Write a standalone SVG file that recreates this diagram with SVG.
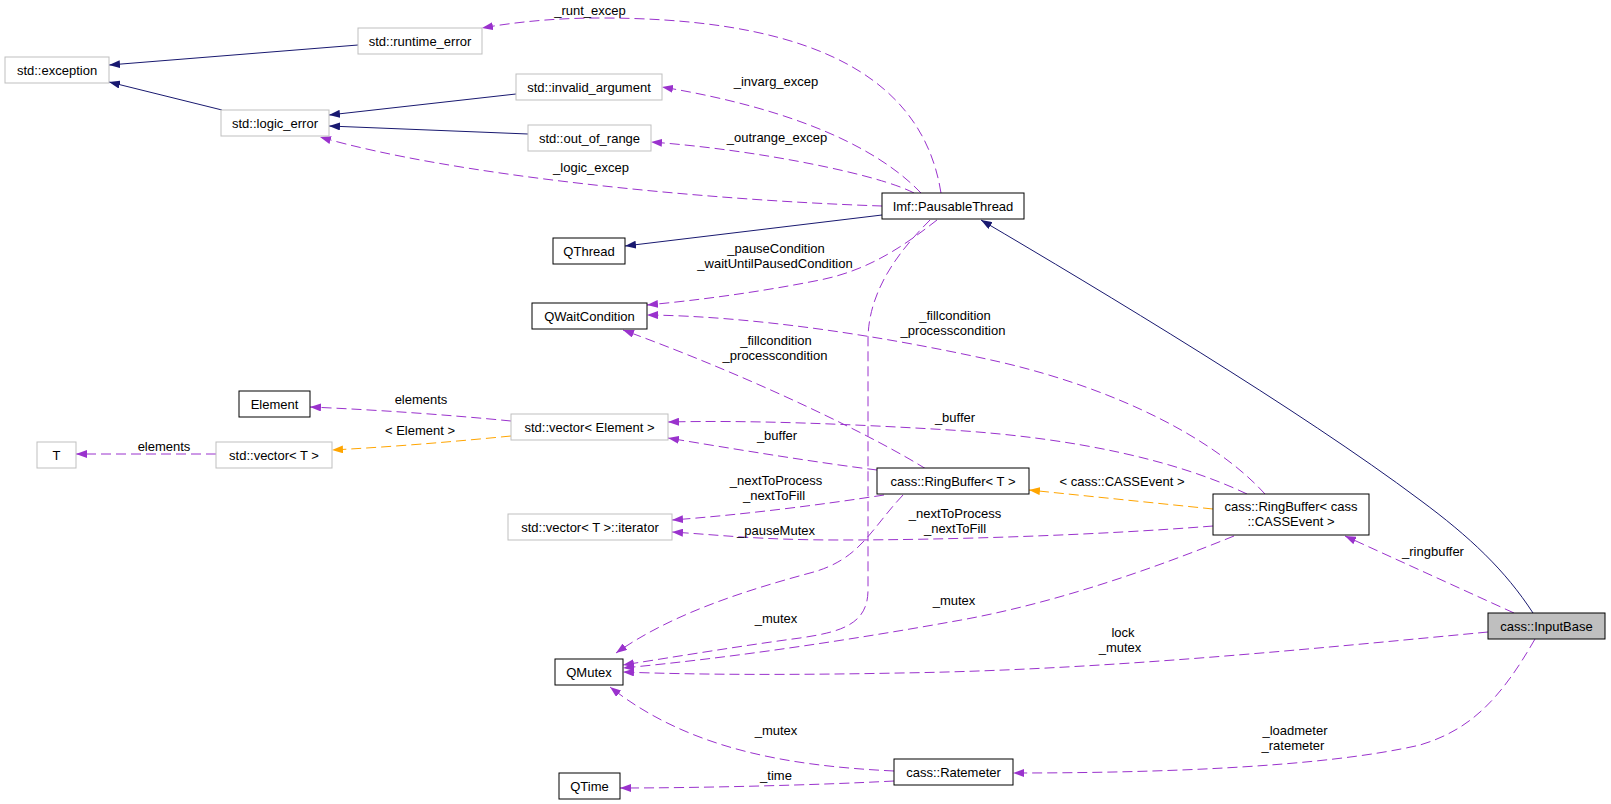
<svg xmlns="http://www.w3.org/2000/svg" width="1611" height="804" viewBox="0 0 1611 804">
<defs>
<style>
text{font-family:"Liberation Sans",Arial,sans-serif;font-size:13px;fill:#000;text-anchor:middle}
.n rect{fill:#fff;stroke:#000;stroke-width:1}
.g rect{fill:#fff;stroke:#bfbfbf;stroke-width:1}
.cur rect{fill:#bfbfbf;stroke:#000;stroke-width:1}
.inh{fill:none;stroke:#191970;stroke-width:1;marker-end:url(#ab)}
.use{fill:none;stroke:#9a32cd;stroke-width:1;stroke-dasharray:10,5;marker-end:url(#ap)}
.tpl{fill:none;stroke:#ffa500;stroke-width:1;stroke-dasharray:10,5;marker-end:url(#ao)}
</style>
<marker id="ab" viewBox="0 0 11 8" refX="11" refY="4" markerWidth="11" markerHeight="8" markerUnits="userSpaceOnUse" orient="auto"><path d="M0,0 L11,4 L0,8 z" fill="#191970"/></marker>
<marker id="ap" viewBox="0 0 11 8" refX="11" refY="4" markerWidth="11" markerHeight="8" markerUnits="userSpaceOnUse" orient="auto"><path d="M0,0 L11,4 L0,8 z" fill="#9a32cd"/></marker>
<marker id="ao" viewBox="0 0 11 8" refX="11" refY="4" markerWidth="11" markerHeight="8" markerUnits="userSpaceOnUse" orient="auto"><path d="M0,0 L11,4 L0,8 z" fill="#ffa500"/></marker>
</defs>
<rect width="1611" height="804" fill="#fff"/>
<g id="edges">
<path class="inh" d="M358,45 L109,65"/>
<path class="inh" d="M222,110 L109,82"/>
<path class="inh" d="M516,94 L329,115"/>
<path class="inh" d="M528,134 L329,126"/>
<path class="inh" d="M882,215 L625,246"/>
<path class="inh" d="M1533,613 C1505,570 1470,537 1420,500 C1300,410 1100,290 981,220"/>
<path class="use" d="M941,193 C920,60 780,18 600,18 C550,18 510,23 482,28"/>
<text x="590" y="15">_runt_excep</text>
<path class="use" d="M921,193 C880,150 800,110 662,87"/>
<text x="776" y="86">_invarg_excep</text>
<path class="use" d="M914,193 C880,175 760,150 651,142"/>
<text x="777" y="142">_outrange_excep</text>
<path class="use" d="M882,206 C700,200 450,175 320,137"/>
<text x="591" y="172">_logic_excep</text>
<path class="use" d="M937,220 C905,245 870,270 820,280 C760,292 700,300 647,305"/>
<text x="776" y="253">_pauseCondition</text>
<text x="775" y="268">_waitUntilPausedCondition</text>
<path class="use" d="M930,220 C900,250 868,290 868,340 L868,590 C868,625 840,632 800,638 C740,646 680,656 623,665"/>
<path class="use" d="M1265,494 C1216,440 1120,390 1000,362 C880,335 750,316 647,315"/>
<text x="955" y="320">_fillcondition</text>
<text x="953" y="335">_processcondition</text>
<path class="use" d="M926,469 C880,440 760,380 623,330"/>
<text x="776" y="345">_fillcondition</text>
<text x="775" y="360">_processcondition</text>
<path class="use" d="M511,421 C450,415 380,410 310,407"/>
<text x="421" y="404">elements</text>
<path class="use" d="M1247,494 C1180,462 1080,438 950,430 C850,424 750,420 668,422"/>
<text x="955" y="422">_buffer</text>
<path class="tpl" d="M511,436 C450,442 390,447 332,450"/>
<text x="420" y="435">&lt; Element &gt;</text>
<path class="use" d="M877,470 C820,463 740,450 668,438"/>
<text x="777" y="440">_buffer</text>
<path class="use" d="M216,454 L76,454"/>
<text x="164" y="451">elements</text>
<path class="use" d="M884,495 C820,505 740,515 672,520"/>
<text x="776" y="485">_nextToProcess</text>
<text x="774" y="500">_nextToFill</text>
<path class="tpl" d="M1213,509 L1029,490"/>
<text x="1122" y="486">&lt; cass::CASSEvent &gt;</text>
<path class="use" d="M1213,526 C1100,535 950,540 840,540 C760,540 720,535 672,532"/>
<text x="955" y="518">_nextToProcess</text>
<text x="955" y="533">_nextToFill</text>
<text x="776" y="535">_pauseMutex</text>
<path class="use" d="M1514,613 L1345,536"/>
<text x="1433" y="556">_ringbuffer</text>
<path class="use" d="M903,495 C870,530 860,560 810,573 C740,592 670,615 616,653"/>
<path class="use" d="M1234,536 C1150,570 1050,605 950,622 C850,640 730,658 623,668"/>
<text x="954" y="605">_mutex</text>
<text x="776" y="623">_mutex</text>
<path class="use" d="M1488,632 C1300,650 1100,670 900,673 C800,675 700,675 623,672"/>
<text x="1123" y="637">lock</text>
<text x="1120" y="652">_mutex</text>
<path class="use" d="M1535,639 C1500,700 1470,730 1420,745 C1320,768 1150,773 1013,773"/>
<text x="1295" y="735">_loadmeter</text>
<text x="1293" y="750">_ratemeter</text>
<path class="use" d="M894,771 C790,766 690,750 610,687"/>
<text x="776" y="735">_mutex</text>
<path class="use" d="M894,781 C820,785 700,788 620,788"/>
<text x="776" y="780">_time</text>
</g>
<g id="n-exception" class="g"><rect x="5" y="57" width="104" height="26"/><text x="57" y="74.5">std::exception</text></g>
<g id="n-runtime_error" class="g"><rect x="358" y="28" width="124" height="26"/><text x="420" y="45.5">std::runtime_error</text></g>
<g id="n-logic_error" class="g"><rect x="221" y="110" width="108" height="26"/><text x="275" y="127.5">std::logic_error</text></g>
<g id="n-invalid_argument" class="g"><rect x="516" y="74" width="146" height="26"/><text x="589" y="91.5">std::invalid_argument</text></g>
<g id="n-out_of_range" class="g"><rect x="528" y="125" width="123" height="26"/><text x="589.5" y="142.5">std::out_of_range</text></g>
<g id="n-pausablethread" class="n"><rect x="882" y="193" width="142" height="26"/><text x="953" y="210.5">Imf::PausableThread</text></g>
<g id="n-qthread" class="n"><rect x="553" y="238" width="72" height="26"/><text x="589" y="255.5">QThread</text></g>
<g id="n-qwaitcondition" class="n"><rect x="532" y="303" width="115" height="26"/><text x="589.5" y="320.5">QWaitCondition</text></g>
<g id="n-element" class="n"><rect x="239" y="391" width="71" height="26"/><text x="274.5" y="408.5">Element</text></g>
<g id="n-vector_element" class="g"><rect x="511" y="414" width="157" height="26"/><text x="589.5" y="431.5">std::vector&lt; Element &gt;</text></g>
<g id="n-T" class="g"><rect x="37" y="442" width="39" height="26"/><text x="56.5" y="459.5">T</text></g>
<g id="n-vector_T" class="g"><rect x="216" y="442" width="116" height="26"/><text x="274" y="459.5">std::vector&lt; T &gt;</text></g>
<g id="n-ringbuffer_T" class="n"><rect x="877" y="468" width="152" height="26"/><text x="953" y="485.5">cass::RingBuffer&lt; T &gt;</text></g>
<g id="n-vector_iterator" class="g"><rect x="508" y="514" width="164" height="26"/><text x="590" y="531.5">std::vector&lt; T &gt;::iterator</text></g>
<g id="n-ringbuffer_cassevent" class="n"><rect x="1213" y="494" width="156" height="41"/><text x="1291" y="511">cass::RingBuffer&lt; cass</text><text x="1291" y="526">::CASSEvent &gt;</text></g>
<g id="n-inputbase" class="cur"><rect x="1488" y="613" width="117" height="26"/><text x="1546.5" y="630.5">cass::InputBase</text></g>
<g id="n-qmutex" class="n"><rect x="555" y="659" width="68" height="26"/><text x="589" y="676.5">QMutex</text></g>
<g id="n-ratemeter" class="n"><rect x="894" y="759" width="119" height="26"/><text x="953.5" y="776.5">cass::Ratemeter</text></g>
<g id="n-qtime" class="n"><rect x="559" y="773" width="61" height="26"/><text x="589.5" y="790.5">QTime</text></g>
</svg>
